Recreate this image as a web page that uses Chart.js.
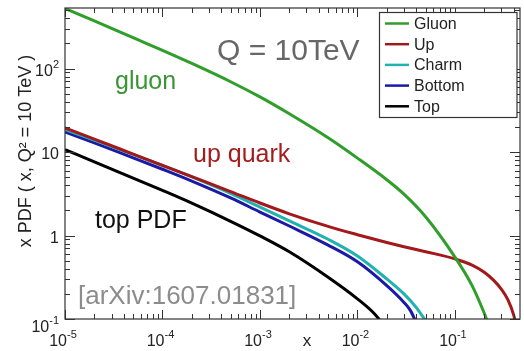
<!DOCTYPE html>
<html>
<head>
<meta charset="utf-8">
<script src="https://cdn.jsdelivr.net/npm/chart.js@4.4.0/dist/chart.umd.min.js"></script>
<style>
    html, body { margin: 0; padding: 0; background: #fff; }
    #wrap { width: 524px; height: 351px; position: relative; }
</style>
</head>
<body>
<div id="wrap"><canvas id="pdfChart"></canvas></div>
<script>
// Parton distributions x*f(x) at Q = 10 TeV
const seriesLabels = ['Gluon', 'Up', 'Charm', 'Bottom', 'Top'];
const seriesColors = ['#2f9e2a', '#a3191b', '#21b1b1', '#1a1aa6', '#000000'];

const gluonX = [1e-5, 2e-5, 5e-5, 1e-4, 2e-4, 5e-4, 1e-3, 2e-3, 5e-3, 1e-2, 2e-2, 3e-2, 5e-2, 0.1, 0.15, 0.2, 0.22];
const gluonY = [525, 372, 234, 165, 115, 69.5, 45.7, 28.7, 14.8, 8.45, 4.66, 3.13, 1.68, 0.552, 0.251, 0.117, 0.087];

const upX = [1e-5, 2e-5, 5e-5, 1e-4, 2e-4, 5e-4, 1e-3, 2e-3, 5e-3, 1e-2, 2e-2, 3e-2, 5e-2, 0.1, 0.15, 0.2, 0.25, 0.3, 0.35, 0.4, 0.43];
const upY = [19.5, 14.3, 9.46, 6.92, 5.07, 3.36, 2.45, 1.82, 1.285, 1.023, 0.826, 0.735, 0.64, 0.525, 0.443, 0.363, 0.29, 0.227, 0.169, 0.112, 0.079];

const charmX = [1e-5, 2e-5, 5e-5, 1e-4, 2e-4, 5e-4, 1e-3, 2e-3, 5e-3, 1e-2, 2e-2, 3e-2, 4e-2, 5e-2];
const charmY = [18.6, 13.9, 9.35, 6.9, 5.04, 3.2, 2.19, 1.50, 0.902, 0.569, 0.302, 0.2, 0.138, 0.0955];

const bottomX = [1e-5, 2e-5, 5e-5, 1e-4, 2e-4, 5e-4, 1e-3, 2e-3, 5e-3, 1e-2, 2e-2, 3e-2, 3.5e-2, 4e-2];
const bottomY = [17.4, 12.9, 8.53, 6.22, 4.49, 2.82, 1.91, 1.30, 0.767, 0.484, 0.251, 0.158, 0.126, 0.0912];

const topX = [1e-5, 2e-5, 5e-5, 1e-4, 2e-4, 5e-4, 1e-3, 2e-3, 5e-3, 1e-2, 1.5e-2, 2e-2];
const topY = [10.7, 7.64, 4.88, 3.47, 2.44, 1.48, 0.989, 0.638, 0.316, 0.174, 0.115, 0.0759];

// decade tick labels: [value, base, exponent]
const xTickLabels = [[1e-5, '10', '-5'], [1e-4, '10', '-4'], [1e-3, '10', '-3'], [1e-2, '10', '-2'], [1e-1, '10', '-1']];
const yTickLabels = [[0.1, '10', '-1'], [1, '1', ''], [10, '10', ''], [100, '10', '2']];

const FONT = '"Liberation Sans", Arial, Helvetica, sans-serif';

function toPoints(xs, ys) {
    return xs.map((x, i) => ({ x: x, y: ys[i] }));
}

const seriesPoints = [
    toPoints(gluonX, gluonY),
    toPoints(upX, upY),
    toPoints(charmX, charmY),
    toPoints(bottomX, bottomY),
    toPoints(topX, topY)
];

// draws "10" with a raised exponent starting at x
function drawPower(ctx, x, baseline, base, exp) {
    ctx.font = '16px ' + FONT;
    ctx.textAlign = 'left';
    ctx.textBaseline = 'alphabetic';
    ctx.fillText(base, x, baseline);
    const wb = ctx.measureText(base).width;
    if (exp) {
        ctx.font = '11px ' + FONT;
        ctx.fillText(exp, x + wb, baseline - 8);
    }
}

function powerWidth(ctx, base, exp) {
    ctx.font = '16px ' + FONT;
    let w = ctx.measureText(base).width;
    if (exp) {
        ctx.font = '11px ' + FONT;
        w += ctx.measureText(exp).width;
    }
    return w;
}

const frameAndText = {
    id: 'frameAndText',
    afterDatasetsDraw(chart) {
        const ctx = chart.ctx;
        const a = chart.chartArea;
        const xs = chart.scales.x;
        const ys = chart.scales.y;

        ctx.save();
        ctx.strokeStyle = '#333';
        ctx.lineWidth = 1.2;
        ctx.strokeRect(a.left, a.top, a.right - a.left, a.bottom - a.top);

        // inward ticks on all four sides
        ctx.lineWidth = 1;
        ctx.beginPath();
        for (let e = -5; e <= 0; e++) {
            for (let m = 1; m <= 9; m++) {
                const v = m * Math.pow(10, e);
                if (v < xs.min || v > xs.max) continue;
                const px = Math.round(xs.getPixelForValue(v)) + 0.5;
                const len = m === 1 ? 9 : 5;
                ctx.moveTo(px, a.bottom); ctx.lineTo(px, a.bottom - len);
                ctx.moveTo(px, a.top); ctx.lineTo(px, a.top + len);
            }
        }
        for (let e = -1; e <= 2; e++) {
            for (let m = 1; m <= 9; m++) {
                const v = m * Math.pow(10, e);
                if (v < ys.min || v > ys.max) continue;
                const py = Math.round(ys.getPixelForValue(v)) + 0.5;
                const len = m === 1 ? 10 : 5;
                ctx.moveTo(a.left, py); ctx.lineTo(a.left + len, py);
                ctx.moveTo(a.right, py); ctx.lineTo(a.right - len, py);
            }
        }
        ctx.stroke();

        // tick labels
        ctx.fillStyle = '#222';
        xTickLabels.forEach(([v, base, exp]) => {
            const px = xs.getPixelForValue(v);
            const w = powerWidth(ctx, base, exp);
            drawPower(ctx, px - w / 2 - 2, 346, base, exp);
        });
        yTickLabels.forEach(([v, base, exp]) => {
            const py = ys.getPixelForValue(v);
            const w = powerWidth(ctx, base, exp);
            const baseline = v === ys.min ? py + 13 : py + 7;
            drawPower(ctx, 59 - w, baseline, base, exp);
        });

        // axis titles
        ctx.font = '17px ' + FONT;
        ctx.textAlign = 'center';
        ctx.textBaseline = 'alphabetic';
        ctx.fillText('x', 307, 346);

        ctx.save();
        ctx.translate(31, 151);
        ctx.rotate(-Math.PI / 2);
        ctx.font = '18px ' + FONT;
        ctx.fillText('x PDF ( x, Q\u00b2 = 10 TeV )', 0, 0);
        ctx.restore();

        // in-plot labels
        ctx.textAlign = 'left';
        ctx.fillStyle = '#676767';
        ctx.font = '30px ' + FONT;
        ctx.fillText('Q = 10TeV', 217, 60);

        ctx.font = '25px ' + FONT;
        ctx.fillStyle = '#3a9634';
        ctx.fillText('gluon', 115, 89);
        ctx.fillStyle = '#a51c1c';
        ctx.fillText('up quark', 193, 162);
        ctx.fillStyle = '#111';
        ctx.fillText('top PDF', 95, 228);

        ctx.fillStyle = '#8c8c8c';
        ctx.font = '26px ' + FONT;
        ctx.fillText('[arXiv:1607.01831]', 78, 304);

        // legend box
        const lx = 379.5, ly = 12.5, lw = 137.5, lh = 105;
        ctx.fillStyle = '#fff';
        ctx.fillRect(lx, ly, lw, lh);
        ctx.strokeStyle = '#333';
        ctx.lineWidth = 1.2;
        ctx.strokeRect(lx, ly, lw, lh);
        ctx.font = '16px ' + FONT;
        ctx.textBaseline = 'middle';
        chart.data.datasets.forEach((ds, i) => {
            const rowY = 23.5 + i * 20.7;
            ctx.strokeStyle = ds.borderColor;
            ctx.lineWidth = 2.5;
            ctx.beginPath();
            ctx.moveTo(385, rowY);
            ctx.lineTo(409, rowY);
            ctx.stroke();
            ctx.fillStyle = '#222';
            ctx.fillText(ds.label, 414, rowY + 1);
        });
        ctx.restore();
    }
};

const pdfChart = new Chart(document.getElementById('pdfChart'), {
    type: 'line',
    data: {
        datasets: seriesLabels.map((label, i) => ({
            label: label,
            data: seriesPoints[i],
            borderColor: seriesColors[i],
            borderWidth: 3,
            pointRadius: 0,
            fill: false,
            cubicInterpolationMode: 'monotone'
        }))
    },
    options: {
        responsive: true,
        maintainAspectRatio: false,
        animation: false,
        events: [],
        layout: { padding: { left: 65, right: 4, top: 8, bottom: 32 } },
        scales: {
            x: { type: 'logarithmic', min: 1e-5, max: 0.465, display: false },
            y: { type: 'logarithmic', min: 0.1, max: 531, display: false }
        },
        plugins: {
            legend: { display: false },
            tooltip: { enabled: false }
        }
    },
    plugins: [frameAndText]
});
</script>
</body>
</html>
